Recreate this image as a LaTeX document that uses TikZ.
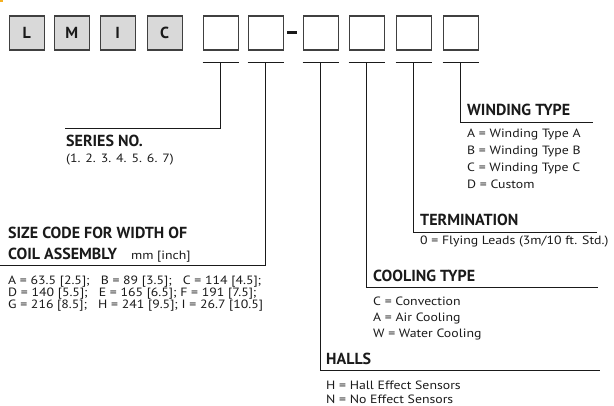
\documentclass[tikz,border=0pt]{standalone}
\usepackage{fontspec}
\setmainfont{PT Sans}
\newfontfamily\itemfont[FakeStretch=1.15]{PT Sans}
\definecolor{boxgray}{HTML}{D9D9D9}
\definecolor{edge}{HTML}{404040}
\definecolor{ink}{HTML}{1A1A1A}
\definecolor{cornerorange}{HTML}{F5B021}
\begin{document}
\begin{tikzpicture}[x=1pt,y=-1pt,
  codebox/.style={draw=edge,line width=1.3pt,minimum width=35pt,minimum height=34pt,inner sep=0,anchor=north west},
  graybox/.style={codebox,fill=boxgray,font=\fontsize{16}{16}\selectfont\bfseries,text=ink},
  lead/.style={draw=ink,line width=0.9pt},
  head/.style={font=\fontsize{16}{16}\selectfont\bfseries,anchor=base west,inner sep=0,text=ink},
  item/.style={font=\itemfont\fontsize{12}{12}\selectfont,anchor=base west,inner sep=0,text=ink}]
\useasboundingbox (0,0) rectangle (614,406);
\fill[cornerorange] (0,0) rectangle (3,2.5);
% code boxes
\node[graybox] (b1) at (8.5,15.5) {L};
\node[graybox] (b2) at (53.5,15.5) {M};
\node[graybox] (b3) at (99.5,15.5) {I};
\node[graybox] (b4) at (146.5,15.5) {C};
\node[codebox] (b5) at (202.5,15.5) {};
\node[codebox] (b6) at (247.5,15.5) {};
\node[fill=ink,minimum width=9.5pt,minimum height=3pt,inner sep=0] (dash) at (292,32.5) {};
\node[codebox] (b7) at (302.5,15.5) {};
\node[codebox] (b8) at (348.5,15.5) {};
\node[codebox] (b9) at (395.5,15.5) {};
\node[codebox] (b10) at (442.5,15.5) {};
% T bars
\foreach \b in {b5,b6,b7,b8,b9,b10}{
  \draw[lead] ([yshift=-12pt]\b.south west) -- ([yshift=-12pt]\b.south east);
}
% end points of the leaders
\coordinate (serE) at (65,128.5);
\coordinate (sizeE) at (0,265);
\coordinate (hallE) at (600,370.5);
\coordinate (coolE) at (598,287.5);
\coordinate (termE) at (597,232);
\coordinate (windE) at (593,122);
\draw[lead] ([yshift=-12pt]b5.south) |- (serE);
\draw[lead] ([yshift=-12pt]b6.south) |- (sizeE);
\draw[lead] ([yshift=-12pt]b7.south) |- (hallE);
\draw[lead] ([yshift=-12pt]b8.south) |- (coolE);
\draw[lead] ([yshift=-12pt]b9.south) |- (termE);
\draw[lead] ([yshift=-12pt]b10.south) |- (windE);
% series
\node[head] (serH) at (66,146.5) {SERIES NO.};
\node[item] (serL) at (66,163) {(1. 2. 3. 4. 5. 6. 7)};
% size code
\node[head] (sizeH1) at (8,239) {SIZE CODE FOR WIDTH OF};
\node[head] (sizeH2) at (8,260) {COIL ASSEMBLY\hspace{14pt}{\itemfont\mdseries\fontsize{12}{12}\selectfont mm [inch]}};
\node[item] (size1) at (8,285) {A = 63.5 [2.5];\ \ \ B = 89 [3.5];\ \ \ C = 114 [4.5];};
\node[item] (size2) at (8,297) {D = 140 [5.5];\ \ \ E = 165 [6.5]; F = 191 [7.5];};
\node[item] (size3) at (8,309) {G = 216 [8.5];\ \ \ H = 241 [9.5]; I = 26.7 [10.5]};
% winding
\node[head] (windH) at (467,116) {WINDING TYPE};
\node[item] (wind1) at (467,138) {A = Winding Type A};
\node[item] (wind2) at (467,155) {B = Winding Type B};
\node[item] (wind3) at (467,172) {C = Winding Type C};
\node[item] (wind4) at (467,189) {D = Custom};
% termination
\node[head] (termH) at (420,225.5) {TERMINATION};
\node[item] (term1) at (420,245) {0 = Flying Leads (3m/10 ft. Std.)};
% cooling
\node[head] (coolH) at (373,281.5) {COOLING TYPE};
\node[item] (cool1) at (373,306) {C = Convection};
\node[item] (cool2) at (373,322) {A = Air Cooling};
\node[item] (cool3) at (373,338) {W = Water Cooling};
% halls
\node[head] (hallH) at (326,365) {HALLS};
\node[item] (hall1) at (326,390) {H = Hall Effect Sensors};
\node[item] (hall2) at (326,404) {N = No Effect Sensors};
\end{tikzpicture}
\end{document}
